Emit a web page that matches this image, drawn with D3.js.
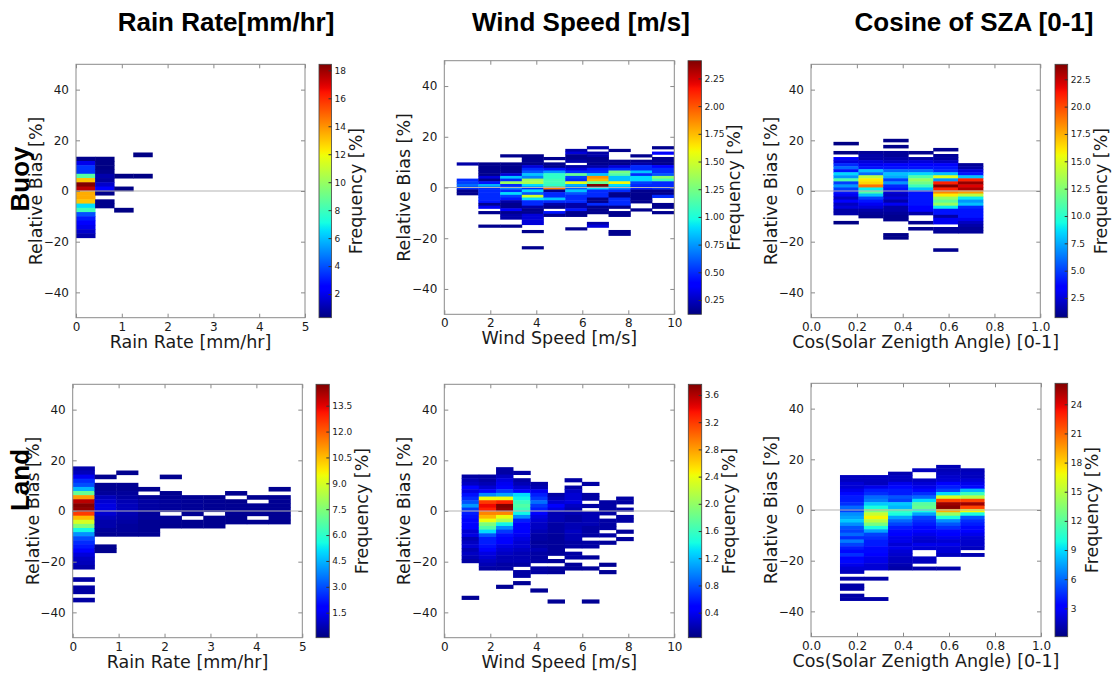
<!DOCTYPE html>
<html><head><meta charset="utf-8">
<script src="https://cdn.jsdelivr.net/npm/d3@7"></script>
<style>body{margin:0;background:#fff;} svg{display:block;}</style>
</head><body>
<script>
// ================= DATA =================
const colTitles = ["Rain Rate[mm/hr]", "Wind Speed [m/s]", "Cosine of SZA [0-1]"];
const rowLabels = ["Buoy", "Land"];
const xLabels = ["Rain Rate [mm/hr]", "Wind Speed [m/s]", "Cos(Solar Zenigth Angle) [0-1]"];
const yLabelText = "Relative Bias [%]";
const cbarLabelText = "Frequency [%]";
const xDomains = [[0, 5], [0, 10], [0, 1]];
const xTickValues = [[0, 1, 2, 3, 4, 5], [0, 2, 4, 6, 8, 10], [0, 0.2, 0.4, 0.6, 0.8, 1.0]];
const xTickFormats = ["d", "d", ".1f"];
const yDomain = [-50, 50];
const yTickValues = [-40, -20, 0, 20, 40];

// panel order: buoyRain, buoyWind, buoySza, landRain, landWind, landSza
// x bin edges
const buoyRainXEdges = [0, 0.417, 0.833, 1.25, 1.667];
const buoyWindXEdges = [0.54, 1.48, 2.43, 3.37, 4.31, 5.26, 6.20, 7.14, 8.09, 9.03, 9.97];
const buoySzaXEdges = [0.098, 0.207, 0.315, 0.424, 0.533, 0.641, 0.750];
const landRainXEdges = [0, 0.474, 0.948, 1.422, 1.896, 2.37, 2.844, 3.318, 3.792, 4.266, 4.74];
const landWindXEdges = [0.754, 1.5, 2.25, 2.99, 3.74, 4.49, 5.23, 5.98, 6.73, 7.47, 8.22];
const landSzaXEdges = [0.126, 0.230, 0.335, 0.440, 0.544, 0.649, 0.753];

// relative-bias bins: top edge and bin width (bins counted downward from the top edge)
const binTop = [15.2, 16.3, 20.6, 17.6, 17.3, 17.8];
const binWidth = [1.68, 1.066, 1.2, 1.62, 1.45, 1.3375];

// frequency [%] per x column: [first bin index, values for consecutive bins]
const buoyRainFreq = [
  [0, [0, 0.5, 2, 3.5, 3.5, 8.5, 13, 18.4, 17.5, 13.5, 13.5, 13, 6.5, 8, 4, 3, 2.5, 2, 1.5, 1]],
  [1, [0.4, 0.4, 0.4, 0.5, 1.0, 0.8, 1.5, 2.5, 0.5, 0, 0.5, 0.5]],
  [5, [0.4, 0, 0, 0.4, 0, 0, 0, 0, 0.4]],
  [0, [0.4, 0, 0, 0, 0, 0.4]]
];
const buoyWindFreq = [
  [6, [0.2, 0, 0, 0, 0, 0, 0.5, 0.55, 0.65, 0.5, 0.15, 0.15]],
  [6, [0.15, 0.15, 0.15, 0.15, 0.15, 0.3, 0.15, 0.45, 0.8, 0.5, 0.5, 0.5, 0.5, 0.5, 0.45, 0.15, 0.35, 0, 0.15, 0, 0, 0, 0, 0.15]],
  [3, [0.15, 0, 0, 0.15, 0.15, 0.15, 0.15, 0.3, 0.85, 0.5, 1.35, 0.5, 0.7, 0.5, 0.9, 0.55, 0.45, 0.2, 0.15, 0.15, 0.4, 0.15, 0.2, 0.2, 0, 0, 0.15]],
  [3, [0.15, 0.15, 0.15, 0.15, 0.3, 0.5, 0.6, 0.85, 0.7, 1.35, 1.4, 0.9, 0.5, 0.9, 0.6, 1.5, 0.9, 0.5, 0.5, 0.2, 0.15, 0.15, 0.3, 0.3, 0.3, 0.3, 0, 0, 0.15, 0, 0, 0, 0, 0, 0.15]],
  [4, [0.15, 0, 0.15, 0.15, 0.45, 0.75, 1.05, 1.05, 1.1, 1.1, 1.05, 1.9, 0.15, 0.5, 0.5, 0.85, 0.5, 0.2, 0.15, 0, 0.45, 0.15]],
  [1, [0.2, 0.3, 0.15, 0.15, 0.2, 0, 0.2, 0.3, 0.5, 1.2, 0.55, 0.5, 1.55, 0.8, 0.6, 0.85, 0.6, 0.5, 0.5, 0.5, 0.2, 0.2, 0.45, 0.15, 0.15, 0, 0, 0, 0, 0.15]],
  [0, [0.2, 0, 0.2, 0.2, 0.15, 0.15, 0.15, 0.2, 0.45, 0.5, 0.85, 1.85, 1.75, 1.2, 2.41, 0.9, 0.5, 0.5, 0.5, 0.15, 0.15, 0.5, 0.15, 0.15, 0.15, 0, 0, 0, 0.2, 0.3]],
  [1, [0.15, 0, 0, 0, 0.15, 0.15, 0.3, 0.5, 1.25, 1.15, 0.85, 0.85, 1.6, 0.9, 0.7, 0.5, 0.15, 0.15, 0.5, 0.5, 0.5, 0.15, 0, 0.15, 0.15, 0, 0, 0, 0, 0, 0.15, 0.15]],
  [3, [0.15, 0, 0.15, 0.2, 0.5, 0.5, 0.85, 0.5, 0.9, 0.9, 0.55, 0.5, 0.45, 0.15, 0.15, 0.15, 0.15, 0.15, 0, 0, 0.15]],
  [0, [0.15, 0, 0.4, 0, 0.15, 0.15, 0.15, 0.4, 0.5, 0.5, 0.6, 1.3, 1.1, 0.5, 0.5, 0.5, 0.15, 0.15, 0.5, 0, 0, 0.15, 0.15, 0, 0.15]]
];
const buoySzaFreq = [
  [1, [0.8, 0, 0, 0.8, 0, 3.5, 2.5, 4.5, 6, 4, 8.5, 7, 11, 5, 7, 5, 4, 3, 2, 3.5, 2, 2.5, 1.5, 1.5, 0, 0, 0.8]],
  [4, [1.2, 1.5, 1.5, 2.5, 3, 4, 8, 6, 14, 16, 16.5, 19, 9, 11, 8, 5, 4, 3, 2.5, 1.5, 1.2, 1.0]],
  [0, [0.9, 0, 0.9, 0, 1.2, 1.2, 1.5, 2, 3.5, 4, 6, 8, 7.5, 5, 7, 4.5, 4, 2.5, 2, 2.5, 1.5, 3, 1.5, 1.5, 1.2, 1, 1, 0, 0, 0, 0, 0.9, 0.9]],
  [4, [1, 0, 1.5, 2.5, 3.5, 4, 6, 8.5, 11, 13, 12, 10.5, 8, 4, 4, 4, 4, 4, 3.5, 3.5, 1.5, 0, 0, 1, 0, 1]],
  [3, [1, 0, 1.2, 1.3, 2, 3.5, 4, 4.5, 8, 15, 7, 21, 23.9, 21, 18.5, 16, 13, 11.5, 13, 9, 4, 4, 1.5, 3, 3, 0, 1.2, 1.2, 0, 0, 0, 0, 0, 1.0]],
  [8, [1.2, 1.5, 2.5, 4, 8, 21, 23.5, 22, 23, 18, 14, 9, 7, 8, 4.5, 4, 4, 4, 3, 2, 1.5, 1.2, 1.2]]
];
const landRainFreq = [
  [0, [0.6, 0.8, 1.5, 2.5, 3, 4.5, 7, 11, 14, 14.7, 14.5, 12.5, 10.5, 9, 7.5, 5.5, 4, 3, 2.5, 2.2, 1.8, 1.2, 0.9, 0.8, 0.6, 0, 0, 0.5, 0, 0.5, 0.5, 0, 0.5]],
  [2, [0.25, 0, 0.3, 0.3, 0.4, 0.8, 1.1, 1.3, 1.3, 1.1, 0.8, 0.6, 0.6, 0.4, 0.3, 0, 0, 0.25, 0.25]],
  [1, [0.25, 0, 0, 0.3, 0.3, 0.4, 0.5, 0.7, 0.8, 0.8, 0.7, 0.6, 0.5, 0.4, 0.4, 0.3]],
  [5, [0.25, 0, 0.3, 0.5, 0.5, 0.5, 0.4, 0.4, 0.3, 0.3, 0.3, 0.3]],
  [2, [0.25, 0, 0, 0, 0.25, 0.3, 0.4, 0.4, 0.4, 0, 0.35, 0.3, 0.25]],
  [7, [0.3, 0.35, 0.35, 0.35, 0.3, 0, 0.25, 0.25]],
  [7, [0.25, 0.3, 0.3, 0.3, 0, 0.25, 0.25, 0.25]],
  [6, [0.25, 0, 0.25, 0.3, 0.3, 0.3, 0.25, 0.25]],
  [7, [0.25, 0, 0.3, 0.3, 0.3, 0, 0.25]],
  [5, [0.25, 0, 0.3, 0.3, 0.3, 0.3, 0.3, 0.3, 0.25]]
];
const landWindFreq = [
  [2, [0.15, 0.2, 0.25, 0.5, 0.35, 0.55, 0.65, 0.8, 1.05, 0.7, 0.6, 0.55, 0.5, 0.5, 0.45, 0.3, 0.35, 0.2, 0.25, 0.3, 0.2, 0.25, 0.2, 0.15, 0, 0, 0, 0, 0, 0, 0, 0, 0, 0.1]],
  [2, [0.15, 0.15, 0.2, 0.3, 0.5, 1.0, 2.4, 3.2, 3.4, 3.3, 2.9, 2.7, 2.4, 1.9, 1.7, 1.3, 0.8, 0.6, 0.6, 0.55, 0.5, 0.35, 0.3, 0.25, 0.2, 0.15]],
  [0, [0.15, 0.15, 0.25, 0.35, 0.4, 0.5, 0.7, 1.1, 2.4, 3.3, 3.76, 3.7, 2.9, 2.4, 2.1, 1.4, 1.0, 0.7, 0.55, 0.5, 0.45, 0.35, 0.3, 0.25, 0.2, 0.2, 0.15, 0.15, 0, 0, 0, 0, 0.1]],
  [1, [0.15, 0, 0.15, 0.2, 0.3, 0.5, 1.3, 1.4, 1.6, 1.7, 1.6, 1.4, 1.0, 0.6, 0.5, 0.5, 0.45, 0.4, 0.35, 0.3, 0.3, 0.25, 0.2, 0.2, 0.2, 0.15, 0, 0.15, 0.15, 0, 0.1]],
  [4, [0.15, 0.2, 0.4, 0.6, 0.7, 0.9, 0.7, 0.6, 0.5, 0.35, 0.3, 0.25, 0.25, 0.2, 0.15, 0.15, 0.12, 0.15, 0.2, 0.15, 0.15, 0.15, 0, 0.15, 0.15, 0, 0, 0, 0, 0.1]],
  [7, [0.15, 0.2, 0.3, 0.45, 0.35, 0.2, 0.2, 0.2, 0.15, 0.15, 0.15, 0.12, 0.12, 0.12, 0.12, 0.12, 0.12, 0, 0.12, 0, 0.12, 0.12, 0, 0, 0, 0, 0, 0, 0, 0.1]],
  [3, [0.15, 0, 0.15, 0.25, 0.3, 0.3, 0.35, 0.25, 0.2, 0.2, 0.15, 0.15, 0.2, 0.2, 0.25, 0.2, 0.2, 0.15, 0.15, 0, 0.15, 0.15, 0, 0.12, 0.12]],
  [4, [0.15, 0, 0, 0.15, 0.15, 0, 0.15, 0, 0.2, 0.2, 0.2, 0.2, 0.15, 0.15, 0.15, 0, 0.15, 0.15, 0, 0, 0.12, 0, 0, 0.12, 0, 0, 0, 0, 0, 0, 0, 0, 0.1]],
  [9, [0.15, 0.15, 0.15, 0.15, 0, 0.15, 0.15, 0.15, 0, 0.15, 0, 0.12, 0, 0, 0, 0, 0, 0.1, 0, 0.1]],
  [8, [0.15, 0.15, 0, 0.15, 0, 0.15, 0.15, 0, 0, 0.12, 0, 0.12]]
];
const landSzaFreq = [
  [3, [1.5, 1.5, 2, 2, 2.5, 3.5, 4, 4, 4.5, 6, 5, 7, 7.5, 8.5, 7, 5.5, 5, 6, 4.5, 6.5, 5, 4, 3.5, 4.5, 3, 3.5, 2.5, 2, 1.5, 0, 1, 0, 1, 1, 0, 1, 1]],
  [3, [1.5, 1.5, 1.5, 2.5, 4, 4.5, 6, 6.5, 8.5, 10, 13, 15.5, 17, 15, 13, 10, 7.5, 5, 4.5, 4, 4, 3.5, 3.5, 3, 2.5, 2.5, 2, 2, 0, 0, 1, 0, 0, 0, 0, 0, 1]],
  [2, [1.2, 1.5, 1.5, 2.5, 3.5, 4, 4, 5.5, 5, 8.5, 8, 11, 10, 7.5, 6, 5, 4, 3.5, 3, 2.5, 2.5, 2, 2.5, 2, 1.8, 1.5, 1.5, 1.2, 1]],
  [1, [1.5, 0, 0, 1.5, 2, 2.5, 3.5, 4.5, 6, 9, 12, 12.5, 10, 7.5, 5, 4.5, 4, 3.5, 3, 2.5, 2, 1.8, 2.5, 2, 0, 0, 1.5, 1.5, 0, 1]],
  [0, [1.3, 1.3, 1.5, 1.8, 2, 3, 4, 5, 9, 16, 22, 25.5, 26, 19, 14, 10, 7, 5.5, 4.5, 3.5, 3, 2.5, 2, 2.5, 2, 2, 1.5, 0, 0, 0, 1]],
  [1, [1.3, 1.5, 1.5, 2, 2.5, 3.5, 8, 11, 15, 22, 25.5, 22, 17, 10, 5.5, 4.5, 4, 3.5, 3, 2.5, 2, 1.8, 1.8, 1.5, 0, 1.2]]
];

// colour-bar limits and ticks
const freqMin = [0.31, 0.121, 0.70, 0.05, 0.032, 0.08];
const freqMax = [18.43, 2.41, 23.87, 14.74, 3.757, 26.16];
const cbarTicks = [
  [2, 4, 6, 8, 10, 12, 14, 16, 18],
  [0.25, 0.5, 0.75, 1.0, 1.25, 1.5, 1.75, 2.0, 2.25],
  [2.5, 5.0, 7.5, 10.0, 12.5, 15.0, 17.5, 20.0, 22.5],
  [1.5, 3.0, 4.5, 6.0, 7.5, 9.0, 10.5, 12.0, 13.5],
  [0.4, 0.8, 1.2, 1.6, 2.0, 2.4, 2.8, 3.2, 3.6],
  [3, 6, 9, 12, 15, 18, 21, 24]
];
const cbarTickFormats = ["d", ".2f", ".1f", ".1f", ".1f", "d"];

const panelXEdges = [buoyRainXEdges, buoyWindXEdges, buoySzaXEdges, landRainXEdges, landWindXEdges, landSzaXEdges];
const panelFreq = [buoyRainFreq, buoyWindFreq, buoySzaFreq, landRainFreq, landWindFreq, landSzaFreq];

// ================= LAYOUT (positions only) =================
const W = 1114, H = 674;
const layout = [
  {plot: [76, 64.3, 305, 317.7], cbar: [319, 64.3, 331.5, 317.7]},
  {plot: [444.3, 60.7, 674.3, 314.3], cbar: [688, 60.7, 701.5, 314.3]},
  {plot: [811, 64.3, 1040.3, 317.7], cbar: [1055, 64.3, 1067.7, 317.7]},
  {plot: [72.7, 384.3, 302.3, 637.7], cbar: [316, 384.3, 329.3, 637.7]},
  {plot: [444.3, 384.3, 674.3, 637.7], cbar: [688.3, 384.3, 701.7, 637.7]},
  {plot: [811, 383.3, 1041, 636.7], cbar: [1055, 383.3, 1067.7, 636.7]}
];
const titlePos = [[226, 31], [581, 31], [974, 31]];
const rowLabelPos = [[29, 179], [29, 480]];

const AX_FONT = "'DejaVu Sans', sans-serif";
const TITLE_FONT = "'Liberation Sans', Arial, sans-serif";
const TEXT_COLOR = "#1a1a1a";
const FRAME_COLOR = "#8a8a8a";

// matplotlib "jet"
function interpSeg(t, seg) {
  for (let i = 1; i < seg.length; i++) {
    if (t <= seg[i][0]) {
      const [t0, v0] = seg[i - 1], [t1, v1] = seg[i];
      return v0 + (v1 - v0) * (t - t0) / (t1 - t0);
    }
  }
  return seg[seg.length - 1][1];
}
function jet(t) {
  t = Math.max(0, Math.min(1, t));
  const r = interpSeg(t, [[0, 0], [0.35, 0], [0.66, 1], [0.89, 1], [1, 0.5]]);
  const g = interpSeg(t, [[0, 0], [0.125, 0], [0.375, 1], [0.64, 1], [0.91, 0], [1, 0]]);
  const b = interpSeg(t, [[0, 0.5], [0.11, 1], [0.34, 1], [0.65, 0], [1, 0]]);
  return d3.rgb(r * 255, g * 255, b * 255).formatHex();
}

const svg = d3.select("body").append("svg").attr("width", W).attr("height", H)
  .style("background", "#fff");

// jet gradient for colour bars
const defs = svg.append("defs");
const grad = defs.append("linearGradient").attr("id", "jetGrad")
  .attr("x1", 0).attr("y1", 1).attr("x2", 0).attr("y2", 0);
d3.range(0, 1.0001, 1 / 64).forEach(t => {
  grad.append("stop").attr("offset", t).attr("stop-color", jet(t));
});

// titles
colTitles.forEach((t, i) => {
  svg.append("text").attr("x", titlePos[i][0]).attr("y", titlePos[i][1])
    .attr("text-anchor", "middle").attr("font-family", TITLE_FONT)
    .attr("font-weight", "bold").attr("font-size", 26).attr("fill", "#000").text(t);
});

function styleAxis(g, fontSize) {
  g.select(".domain").remove();
  g.selectAll(".tick line").attr("stroke", FRAME_COLOR);
  g.selectAll(".tick text").attr("fill", TEXT_COLOR)
    .attr("font-family", AX_FONT).attr("font-size", fontSize);
}

for (let p = 0; p < 6; p++) {
  const col = p % 3;
  const [px0, py0, px1, py1] = layout[p].plot;
  const [cx0, cy0, cx1, cy1] = layout[p].cbar;
  const x = d3.scaleLinear().domain(xDomains[col]).range([px0, px1]);
  const y = d3.scaleLinear().domain(yDomain).range([py1, py0]);
  const vmin = freqMin[p], vmax = freqMax[p];
  const color = v => jet((v - vmin) / (vmax - vmin));
  const edges = panelXEdges[p];
  const top = binTop[p], bw = binWidth[p];

  const cells = [];
  panelFreq[p].forEach(([start, vals], i) => {
    vals.forEach((v, j) => {
      if (v > 0) {
        const k = start + j;
        cells.push({x0: edges[i], x1: edges[i + 1], yHi: top - k * bw, yLo: top - (k + 1) * bw, v});
      }
    });
  });

  const g = svg.append("g");
  // small overlap so that neighbouring cells join without seams
  g.selectAll("rect.cell").data(cells).join("rect").attr("class", "cell")
    .attr("x", d => x(d.x0)).attr("width", d => x(d.x1) - x(d.x0) + 0.4)
    .attr("y", d => y(d.yHi)).attr("height", d => y(d.yLo) - y(d.yHi) + 0.5)
    .attr("fill", d => color(d.v));

  // zero line
  g.append("line").attr("x1", px0).attr("x2", px1).attr("y1", y(0)).attr("y2", y(0))
    .attr("stroke", "#b4b4b4").attr("stroke-width", 1.1);

  // axes
  const fmtX = d3.format(xTickFormats[col]);
  const gx = g.append("g").attr("transform", `translate(0,${py1})`)
    .call(d3.axisBottom(x).tickValues(xTickValues[col]).tickFormat(fmtX)
      .tickSizeInner(-4).tickSizeOuter(0).tickPadding(4.5));
  styleAxis(gx, 12);
  const gxt = g.append("g").attr("transform", `translate(0,${py0})`)
    .call(d3.axisTop(x).tickValues(xTickValues[col]).tickFormat("").tickSizeInner(-4).tickSizeOuter(0));
  styleAxis(gxt, 12);
  const gy = g.append("g").attr("transform", `translate(${px0},0)`)
    .call(d3.axisLeft(y).tickValues(yTickValues).tickFormat(d3.format("d"))
      .tickSizeInner(-4).tickSizeOuter(0).tickPadding(7));
  styleAxis(gy, 12);
  const gyr = g.append("g").attr("transform", `translate(${px1},0)`)
    .call(d3.axisRight(y).tickValues(yTickValues).tickFormat("").tickSizeInner(-4).tickSizeOuter(0));
  styleAxis(gyr, 12);

  // frame
  g.append("rect").attr("x", px0).attr("y", py0).attr("width", px1 - px0).attr("height", py1 - py0)
    .attr("fill", "none").attr("stroke", FRAME_COLOR).attr("stroke-width", 1);

  // axis labels
  g.append("text").attr("x", (px0 + px1) / 2).attr("y", py1 + 30)
    .attr("text-anchor", "middle").attr("font-family", AX_FONT).attr("font-size", 17.5)
    .attr("fill", TEXT_COLOR).text(xLabels[col]);
  g.append("text").attr("transform", `translate(${px0 - 34},${(py0 + py1) / 2}) rotate(-90)`)
    .attr("text-anchor", "middle").attr("font-family", AX_FONT).attr("font-size", 17.5)
    .attr("fill", TEXT_COLOR).text(yLabelText);

  // colour bar
  g.append("rect").attr("x", cx0).attr("y", cy0).attr("width", cx1 - cx0).attr("height", cy1 - cy0)
    .attr("fill", "url(#jetGrad)").attr("stroke", "#444").attr("stroke-width", 0.8);
  const cs = d3.scaleLinear().domain([vmin, vmax]).range([cy1, cy0]);
  const gc = g.append("g").attr("transform", `translate(${cx1},0)`)
    .call(d3.axisRight(cs).tickValues(cbarTicks[p]).tickFormat(d3.format(cbarTickFormats[p]))
      .tickSizeInner(-3).tickSizeOuter(0).tickPadding(3));
  gc.select(".domain").remove();
  gc.selectAll(".tick line").attr("stroke", "#333");
  gc.selectAll(".tick text").attr("fill", TEXT_COLOR).attr("font-family", AX_FONT).attr("font-size", 9);
  let maxW = 0;
  gc.selectAll(".tick text").each(function () { maxW = Math.max(maxW, this.getComputedTextLength()); });
  g.append("text").attr("transform", `translate(${cx1 + 3 + maxW + 3 + 12.8},${(cy0 + cy1) / 2}) rotate(-90)`)
    .attr("text-anchor", "middle").attr("font-family", AX_FONT).attr("font-size", 17.5)
    .attr("fill", TEXT_COLOR).text(cbarLabelText);
}

// row labels (drawn last, overlapping as in the original)
rowLabels.forEach((t, i) => {
  svg.append("text").attr("transform", `translate(${rowLabelPos[i][0]},${rowLabelPos[i][1]}) rotate(-90)`)
    .attr("text-anchor", "middle").attr("font-family", TITLE_FONT)
    .attr("font-weight", "bold").attr("font-size", 26).attr("fill", "#000").text(t);
});
</script>
</body></html>
